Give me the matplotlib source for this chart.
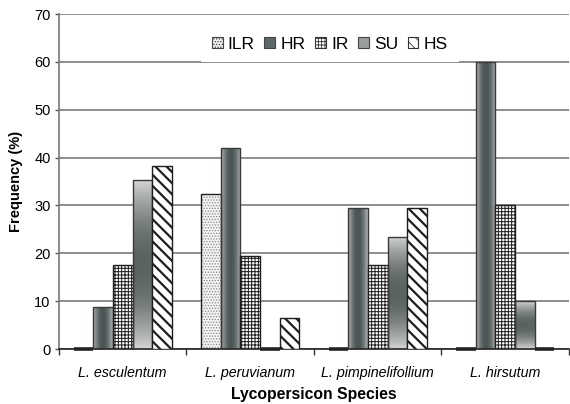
import numpy as np
import matplotlib
matplotlib.use('Agg')
import matplotlib.pyplot as plt
from matplotlib.colors import LinearSegmentedColormap
from matplotlib.patches import Patch, Rectangle

plt.rcParams['font.family'] = ['Liberation Sans', 'DejaVu Sans']

species = ['L. esculentum', 'L. peruvianum', 'L. pimpinelifollium', 'L. hirsutum']
groups = ['ILR', 'HR', 'IR', 'SU', 'HS']
ilr = [0, 32.3, 0, 0]
hr = [8.8, 41.9, 29.4, 60.0]
ir = [17.6, 19.4, 17.6, 30.0]
su = [35.3, 0, 23.5, 10.0]
hs = [38.2, 6.5, 29.4, 0]

fig = plt.figure(figsize=(5.7, 4.04), dpi=100)
ax = fig.add_axes([0.1035, 0.1361, 0.8947, 0.8292])

x = np.arange(len(species))
w = 0.154
edge = '#1e1e1e'

hr_cmap = LinearSegmentedColormap.from_list('hr', ['#b8b8b8', '#4b5555'])
su_cmap = LinearSegmentedColormap.from_list('su', ['#d4d4d4', '#5a6262'])


def gradient_fill(bars, cmap, horizontal):
    t = np.linspace(0, 1, 80)
    prof = np.sin(np.pi * t) ** 0.9
    arr = prof[None, :] if horizontal else prof[:, None]
    for b in bars:
        h = b.get_height()
        if h <= 0:
            continue
        x0, y0, bw = b.get_x(), b.get_y(), b.get_width()
        im = ax.imshow(arr, extent=[x0, x0 + bw, y0, y0 + h], aspect='auto',
                       cmap=cmap, vmin=0, vmax=1, zorder=2.5, interpolation='bilinear')
        im.set_clip_path(b)


def zero_marks(bars):
    # empty categories still show a flat dark bar on the axis
    for b in bars:
        if b.get_height() == 0:
            ax.hlines(0, b.get_x(), b.get_x() + b.get_width(), colors='#222222',
                      linewidth=2.6, zorder=4, clip_on=False)


all_bars = []

# ILR - stipple
plt.rcParams['hatch.linewidth'] = 0.6
ax.bar(x - 2 * w, ilr, w, facecolor='#f2f2f2', edgecolor='#8a8a8a', hatch='......',
       linewidth=0, zorder=2)
all_bars.append(ax.bar(x - 2 * w, ilr, w, facecolor='none', edgecolor=edge,
                       linewidth=1.0, zorder=3))

# HR - horizontal cylinder gradient
b_hr = ax.bar(x - w, hr, w, facecolor='none', edgecolor='#3a3a3a', linewidth=1.0, zorder=3)
gradient_fill(b_hr, hr_cmap, True)
all_bars.append(b_hr)

# IR - crosshatch grid
plt.rcParams['hatch.linewidth'] = 0.7
all_bars.append(ax.bar(x, ir, w, facecolor='white', edgecolor=edge, hatch='+++++',
                       linewidth=1.0, zorder=3))

# SU - vertical gradient
b_su = ax.bar(x + w, su, w, facecolor='none', edgecolor='#3a3a3a', linewidth=1.0, zorder=3)
gradient_fill(b_su, su_cmap, False)
all_bars.append(b_su)

# HS - diagonal stripes
plt.rcParams['hatch.linewidth'] = 1.6
all_bars.append(ax.bar(x + 2 * w, hs, w, facecolor='white', edgecolor=edge, hatch='\\\\\\',
                       linewidth=1.0, zorder=3))

for bars in all_bars:
    zero_marks(bars)

ax.set_xlim(-0.5, 3.5)
ax.set_ylim(0, 70)
ax.set_yticks(np.arange(0, 71, 10))
ax.yaxis.grid(True, color='#7a7a7a', linewidth=1.2, zorder=0)
ax.set_axisbelow(True)

ax.set_xticks(x)
ax.set_xticklabels(species, style='italic', fontsize=10.3)
ax.set_xticks(np.arange(-0.5, 4.0, 1.0), minor=True)
ax.tick_params(axis='x', which='major', length=0, pad=12)
ax.tick_params(axis='x', which='minor', length=4, width=1, color='#333333')
ax.tick_params(axis='y', length=3, width=1, color='#555555', labelsize=10.5, pad=3)

for s in ['top', 'right']:
    ax.spines[s].set_visible(False)
ax.spines['left'].set_color('#777777')
ax.spines['left'].set_linewidth(1.2)
ax.spines['bottom'].set_color('#222222')
ax.spines['bottom'].set_linewidth(1.2)

ax.set_ylabel('Frequency (%)', fontsize=10.5, fontweight='bold', labelpad=8)
ax.set_xlabel('Lycopersicon Species', fontsize=11.3, fontweight='bold', labelpad=5)

# white box behind legend
ax.add_patch(Rectangle((0.278, 0.857), 0.506, 0.14, transform=ax.transAxes,
                       facecolor='white', edgecolor='none', zorder=1))

plt.rcParams['hatch.linewidth'] = 0.6
handles = [
    Patch(facecolor='#eeeeee', edgecolor='#444444', hatch='......', linewidth=0.8),
    Patch(facecolor='#5e6868', edgecolor='#444444', linewidth=0.8),
    Patch(facecolor='white', edgecolor='#333333', hatch='+++++', linewidth=0.8),
    Patch(facecolor='#9a9e9e', edgecolor='#444444', linewidth=0.8),
    Patch(facecolor='white', edgecolor='#333333', hatch='\\\\\\', linewidth=0.8),
]
ax.legend(handles, groups, loc='center', bbox_to_anchor=(0.531, 0.91), ncol=5,
          frameon=False, fontsize=12.5, handlelength=0.62, handleheight=0.62,
          handletextpad=0.3, columnspacing=0.55)

fig.savefig('out.png', dpi=100)
